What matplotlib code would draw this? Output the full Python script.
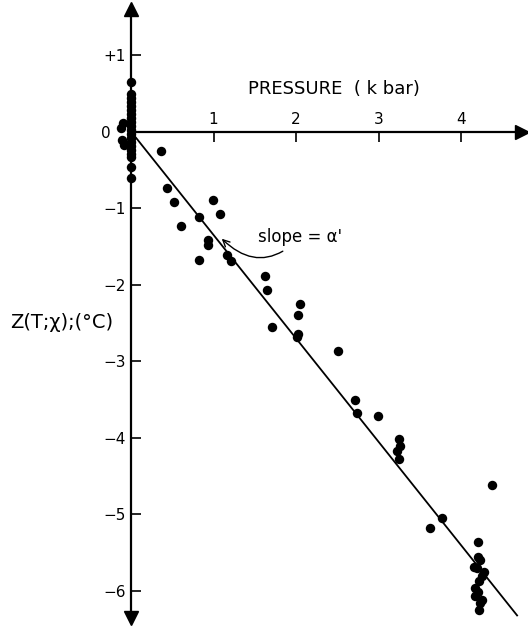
import matplotlib.pyplot as plt

# column of points measured at (nearly) zero pressure
p_zero = [0.0, 0.0, 0.0, 0.0, 0.0, 0.0, 0.0, 0.0, 0.0, 0.0, 0.0, 0.0, 0.0, 0.0,
          0.0, 0.0, 0.0, 0.0, 0.0, 0.0, -0.10, -0.12, -0.11, -0.085]
z_zero = [0.64, 0.49, 0.44, 0.39, 0.33, 0.28, 0.23, 0.18, 0.12, 0.07, 0.02, -0.03,
          -0.08, -0.14, -0.19, -0.24, -0.29, -0.33, -0.46, -0.61, 0.11, 0.05, -0.11, -0.18]

# points under pressure
p_high = [0.36, 0.44, 0.52, 0.60, 0.82, 0.83, 0.99, 1.08, 0.93, 0.93, 1.16, 1.21,
          1.63, 1.65, 2.05, 2.02, 1.71, 2.01, 2.03, 2.51, 2.72, 2.74, 2.99,
          3.25, 3.26, 3.23, 3.25, 4.38, 3.77, 3.62,
          4.21, 4.21, 4.23, 4.16, 4.19, 4.28, 4.25, 4.22, 4.17, 4.20, 4.17, 4.25, 4.23, 4.22]
z_high = [-0.26, -0.74, -0.92, -1.24, -1.12, -1.68, -0.89, -1.08, -1.42, -1.48, -1.61, -1.69,
          -1.88, -2.07, -2.25, -2.40, -2.55, -2.68, -2.65, -2.87, -3.50, -3.68, -3.71,
          -4.01, -4.11, -4.17, -4.28, -4.62, -5.05, -5.18,
          -5.36, -5.55, -5.59, -5.68, -5.70, -5.75, -5.80, -5.87, -5.96, -6.01, -6.07, -6.12, -6.16, -6.25]

# fitted line, slope alpha' in degC per kbar
slope = -1.35
line_p = [0.04, 4.68]

x_ticks = [1, 2, 3, 4]
y_ticks = [1, 0, -1, -2, -3, -4, -5, -6]
y_tick_labels = ['+1', '0   ', '\u22121', '\u22122', '\u22123', '\u22124', '\u22125', '\u22126']

plt.rcParams['font.family'] = ['DejaVu Sans']

fig = plt.figure(figsize=(5.28, 6.26), dpi=100)
ax = fig.add_axes([0, 0, 1, 1])
ax.set_xlim(-1.588, 4.812)
ax.set_ylim(-6.456, 1.717)

# axes through the origin
for side in ['bottom', 'right']:
    ax.spines[side].set_visible(False)
ax.spines['left'].set_position(('data', 0))
ax.spines['top'].set_position(('data', 0))
ax.spines['left'].set_bounds(-6.3, 1.55)
ax.spines['top'].set_bounds(0, 4.7)
ax.spines['left'].set_linewidth(1.6)
ax.spines['top'].set_linewidth(1.6)

ax.xaxis.set_ticks_position('top')
ax.set_xticks(x_ticks)
ax.set_xticklabels([str(t) for t in x_ticks])
ax.set_yticks(y_ticks)
ax.set_yticklabels(y_tick_labels)
ax.tick_params(axis='x', direction='in', length=7, width=1.2, pad=3, labelsize=11)
ax.tick_params(axis='y', direction='in', length=7, width=1.2, pad=4, labelsize=11)

# arrow heads
ax.plot([0], [1.60], marker='^', ms=10, color='k', clip_on=False)
ax.plot([0], [-6.35], marker='v', ms=10, color='k', clip_on=False)
ax.plot([4.74], [0], marker='>', ms=10, color='k', clip_on=False)

# data
ax.plot(p_zero, z_zero, 'o', color='k', ms=6.8, mec='none', clip_on=False)
ax.plot(p_high, z_high, 'o', color='k', ms=6.8, mec='none', clip_on=False)
ax.plot(line_p, [slope * p for p in line_p], color='k', lw=1.3)

ax.text(1.42, 0.555, 'PRESSURE  ( k bar)', fontsize=13, va='center', ha='left')
ax.text(-1.47, -2.50, 'Z(T;\u03c7);(\u00b0C)', fontsize=14, va='center', ha='left')
ax.annotate("slope = \u03b1'", xy=(1.10, -1.40), xytext=(1.54, -1.38),
            fontsize=12, va='center', ha='left',
            arrowprops=dict(arrowstyle='->', color='k', lw=1.0,
                            connectionstyle='arc3,rad=-0.5', shrinkA=3, shrinkB=0))

fig.savefig('out.png', dpi=100)
